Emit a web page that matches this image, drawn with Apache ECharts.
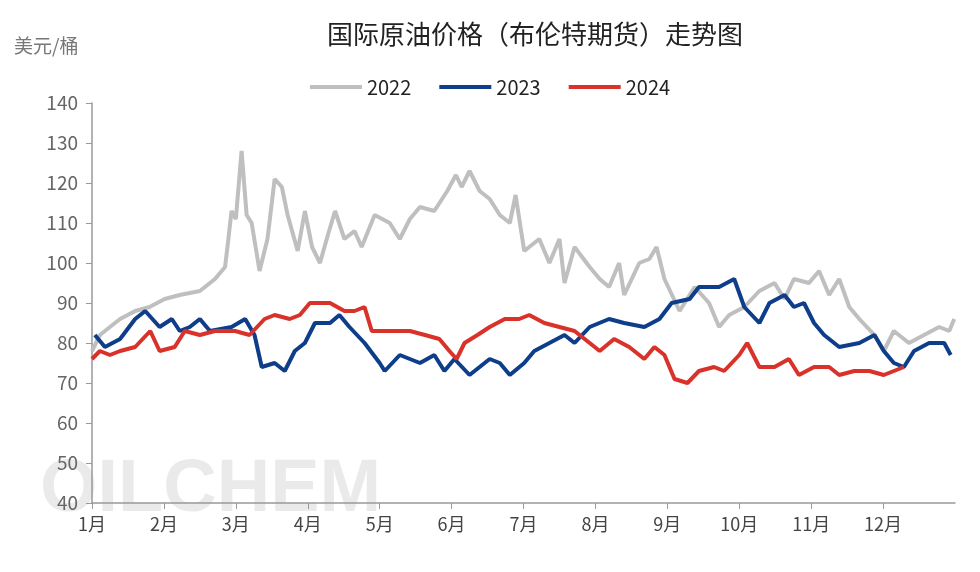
<!DOCTYPE html>
<html><head><meta charset="utf-8">
<script src="https://cdn.jsdelivr.net/npm/echarts@6/dist/echarts.min.js"></script>
<style>html,body{margin:0;padding:0;background:#fff}#myChart{width:980px;height:572px}</style>
</head><body><div id="myChart"></div>
<script>
// x = month position (0 = Jan 1), y = USD/bbl
const monthLabels = ['1月','2月','3月','4月','5月','6月','7月','8月','9月','10月','11月','12月'];
const yTicks = [40, 50, 60, 70, 80, 90, 100, 110, 120, 130, 140];

const s2022 = [[0,78],[0.11,82],[0.39,86],[0.6,88],[0.8,89],[1.01,91],[1.22,92],[1.5,93],[1.71,96],[1.85,99],[1.89,105],[1.94,113],[2.0,111],[2.08,128],[2.15,112],[2.22,110],[2.33,98],[2.44,106],[2.54,121],[2.64,119],[2.72,112],[2.86,103],[2.96,113],[3.06,104],[3.17,100],[3.28,107],[3.38,113],[3.51,106],[3.65,108],[3.75,104],[3.93,112],[4.14,110],[4.28,106],[4.42,111],[4.56,114],[4.76,113],[4.94,118],[5.06,122],[5.14,119],[5.25,123],[5.39,118],[5.53,116],[5.67,112],[5.81,110],[5.89,117],[6.01,103],[6.22,106],[6.36,100],[6.5,106],[6.57,95],[6.71,104],[6.92,99],[7.06,96],[7.19,94],[7.33,100],[7.4,92],[7.61,100],[7.75,101],[7.85,104],[7.96,96],[8.17,88],[8.38,94],[8.58,90],[8.72,84],[8.86,87],[9.07,89],[9.28,93],[9.49,95],[9.63,91],[9.76,96],[9.97,95],[10.11,98],[10.25,92],[10.39,96],[10.53,89],[10.67,86],[10.88,82],[11.01,78],[11.15,83],[11.36,80],[11.57,82],[11.78,84],[11.92,83],[11.99,86]];
const s2023 = [[0.04,82],[0.18,79],[0.39,81],[0.6,86],[0.74,88],[0.94,84],[1.11,86],[1.22,83],[1.36,84],[1.5,86],[1.64,83],[1.94,84],[2.13,86],[2.26,82],[2.36,74],[2.54,75],[2.68,73],[2.82,78],[2.96,80],[3.1,85],[3.31,85],[3.44,87],[3.58,84],[3.79,80],[4.0,75],[4.07,73],[4.28,77],[4.56,75],[4.76,77],[4.9,73],[5.04,76],[5.25,72],[5.53,76],[5.67,75],[5.81,72],[6.01,75],[6.15,78],[6.36,80],[6.57,82],[6.71,80],[6.92,84],[7.19,86],[7.4,85],[7.68,84],[7.89,86],[8.06,90],[8.31,91],[8.44,94],[8.72,94],[8.93,96],[9.07,89],[9.28,85],[9.42,90],[9.63,92],[9.76,89],[9.9,90],[10.04,85],[10.18,82],[10.39,79],[10.67,80],[10.88,82],[11.01,78],[11.15,75],[11.29,74],[11.43,78],[11.64,80],[11.85,80],[11.94,77]];
const s2024 = [[0,76],[0.11,78],[0.25,77],[0.39,78],[0.6,79],[0.81,83],[0.94,78],[1.15,79],[1.29,83],[1.5,82],[1.71,83],[1.99,83],[2.19,82],[2.4,86],[2.54,87],[2.75,86],[2.89,87],[3.03,90],[3.31,90],[3.51,88],[3.65,88],[3.79,89],[3.89,83],[4.21,83],[4.42,83],[4.63,82],[4.83,81],[4.97,78],[5.07,76],[5.18,80],[5.36,82],[5.53,84],[5.74,86],[5.94,86],[6.08,87],[6.29,85],[6.5,84],[6.71,83],[6.92,80],[7.06,78],[7.26,81],[7.47,79],[7.68,76],[7.82,79],[7.96,77],[8.1,71],[8.28,70],[8.44,73],[8.65,74],[8.79,73],[9.0,77],[9.11,80],[9.28,74],[9.49,74],[9.69,76],[9.83,72],[10.04,74],[10.25,74],[10.39,72],[10.6,73],[10.81,73],[11.01,72],[11.15,73],[11.29,74]];

let myChart = echarts.init(document.getElementById('myChart'));
const font = 'Noto Sans CJK SC';

function line(name, data, color) {
  return { name: name, type: 'line', data: data, symbol: 'none', smooth: false,
    lineStyle: { width: 4, color: color }, itemStyle: { color: color } };
}

let myChartOption = {
  animation: false,
  textStyle: { fontFamily: font },
  title: {
    text: '国际原油价格（布伦特期货）走势图', left: 530, top: 16, textAlign: 'center',
    textStyle: { fontSize: 26, fontWeight: 'normal', color: '#222', fontFamily: font },
  },
  legend: {
    top: 72, left: 'center', itemWidth: 52, itemHeight: 4, itemGap: 28,
    textStyle: { fontSize: 20, color: '#222' }, icon: 'rect',
    data: ['2022', '2023', '2024'],
  },
  graphic: [
    { type: 'text', left: 14, top: 36, style: { text: '美元/桶', fontSize: 19, fill: '#777', fontFamily: font } },
    { type: 'text', left: 40, top: 454, style: { text: 'OILCHEM', fontSize: 74, fontWeight: 'bold', fill: 'rgba(150,150,150,0.2)', fontFamily: 'Liberation Sans' } },
  ],
  grid: { left: 92, right: 25, top: 103, bottom: 69 },
  xAxis: {
    type: 'value', min: 0, max: 12, interval: 1,
    axisLine: { lineStyle: { color: '#999', width: 1.5 } },
    axisTick: { show: true, length: 6, lineStyle: { color: '#999' } },
    splitLine: { show: false },
    axisLabel: { fontSize: 18, color: '#444', margin: 12, showMaxLabel: false,
      formatter: function (v) { return monthLabels[v] || ''; } },
  },
  yAxis: {
    type: 'value', min: yTicks[0], max: yTicks[yTicks.length - 1], interval: 10,
    axisLine: { show: true, lineStyle: { color: '#999', width: 1.5 } },
    axisTick: { show: true, length: 6, lineStyle: { color: '#999' } },
    splitLine: { show: false },
    axisLabel: { fontSize: 19, color: '#666', margin: 14 },
  },
  series: [
    line('2022', s2022, '#bfbfbf'),
    line('2023', s2023, '#0e3d8a'),
    line('2024', s2024, '#d8322b'),
  ],
};

myChart.setOption(myChartOption);
</script></body></html>
